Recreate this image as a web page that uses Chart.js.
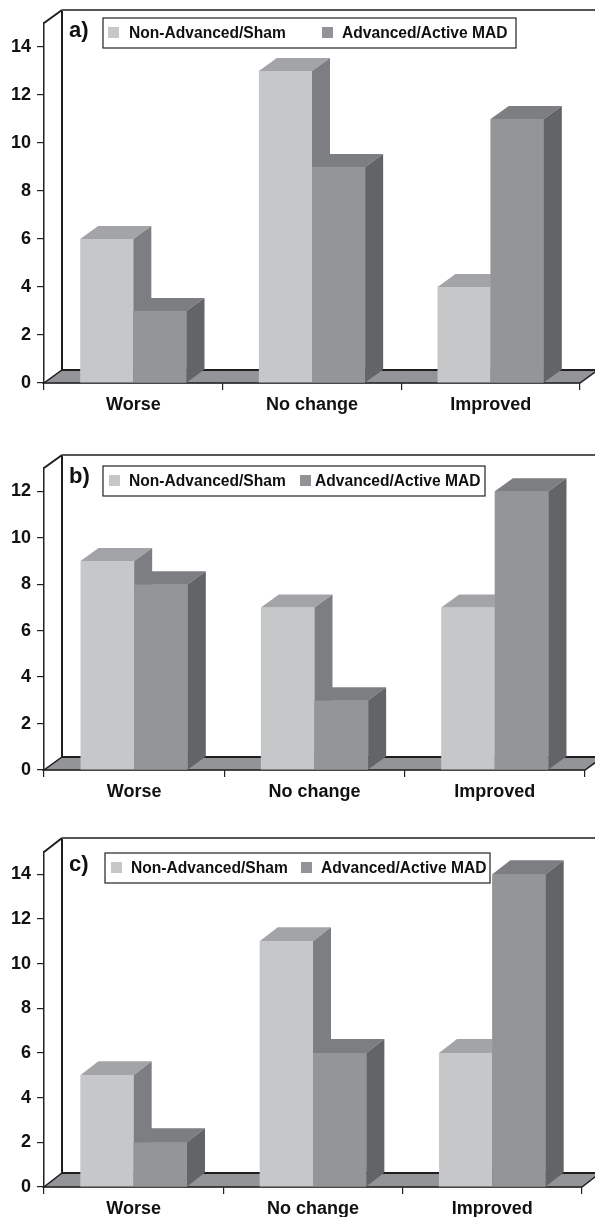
<!DOCTYPE html>
<html>
<head>
<meta charset="utf-8">
<script src="https://cdn.jsdelivr.net/npm/chart.js@4"></script>
<style>
  html, body { margin:0; padding:0; background:#fff; }
  body { width:595px; height:1217px; position:relative; overflow:hidden; }
  canvas { position:absolute; left:0; }
</style>
</head>
<body>
<canvas id="cA" width="595" height="415" style="top:0px"></canvas>
<canvas id="cB" width="595" height="400" style="top:415px"></canvas>
<canvas id="cC" width="595" height="402" style="top:815px"></canvas>
<script>
// ---- DATA ----
const categories = ['Worse', 'No change', 'Improved'];
const seriesNames = ['Non-Advanced/Sham', 'Advanced/Active MAD'];
const panelLabels = ['a)', 'b)', 'c)'];

const panelA_nonAdvanced = [6, 13, 4];
const panelA_advanced    = [3, 9, 11];
const panelB_nonAdvanced = [9, 7, 7];
const panelB_advanced    = [8, 3, 12];
const panelC_nonAdvanced = [5, 11, 6];
const panelC_advanced    = [2, 6, 14];

const yTicksA = [0, 2, 4, 6, 8, 10, 12, 14];
const yTicksB = [0, 2, 4, 6, 8, 10, 12];
const yTicksC = [0, 2, 4, 6, 8, 10, 12, 14];
const yMaxA = 15, yMaxB = 13, yMaxC = 15;

// ---- STYLE ----
const FONT = '"Liberation Sans", Arial, Helvetica, sans-serif';
const frontColors = ['#c6c7c9', '#949598'];
const topColors   = ['#a3a4a7', '#7d7e81'];
const sideColors  = ['#7d7e81', '#636466'];
const floorColor  = '#939497';
const legendSwatch = ['#c6c7c9', '#929396'];

const threeD = {
  id: 'threeD',
  beforeDatasetsDraw(chart, args, o) {
    const ctx = chart.ctx, ca = chart.chartArea;
    const dx = o.dx, dy = o.dy;
    ctx.save();
    ctx.beginPath();
    ctx.moveTo(ca.left, ca.bottom);
    ctx.lineTo(ca.right, ca.bottom);
    ctx.lineTo(ca.right + dx, ca.bottom - dy);
    ctx.lineTo(ca.left + dx, ca.bottom - dy);
    ctx.closePath();
    ctx.fillStyle = floorColor;
    ctx.fill();
    ctx.strokeStyle = '#1e1e1e';
    ctx.lineWidth = 1.5;
    ctx.stroke();
    ctx.beginPath();
    ctx.moveTo(ca.left + dx, ca.bottom - dy);
    ctx.lineTo(ca.right + dx, ca.bottom - dy);
    ctx.lineWidth = 2;
    ctx.stroke();
    ctx.beginPath();
    ctx.moveTo(ca.left + dx, ca.bottom - dy);
    ctx.lineTo(ca.left + dx, ca.top - dy);
    ctx.moveTo(ca.left, ca.top);
    ctx.lineTo(ca.left + dx, ca.top - dy);
    ctx.lineWidth = 2;
    ctx.strokeStyle = '#1e1e1e';
    ctx.stroke();
    ctx.beginPath();
    ctx.moveTo(ca.left + dx, ca.top - dy);
    ctx.lineTo(chart.width, ca.top - dy);
    ctx.strokeStyle = '#555';
    ctx.lineWidth = 2;
    ctx.stroke();
    ctx.restore();
  },
  afterDatasetsDraw(chart, args, o) {
    const ctx = chart.ctx;
    const dx = o.dx, dy = o.dy;
    const n = chart.data.labels.length;
    ctx.save();
    for (let i = 0; i < n; i++) {
      for (let d = 0; d < chart.data.datasets.length; d++) {
        const el = chart.getDatasetMeta(d).data[i];
        const p = el.getProps(['x', 'y', 'base', 'width'], true);
        const l = p.x - p.width / 2, r = p.x + p.width / 2;
        if (d > 0) el.draw(ctx);
        ctx.beginPath();
        ctx.moveTo(l, p.y);
        ctx.lineTo(r, p.y);
        ctx.lineTo(r + dx, p.y - dy);
        ctx.lineTo(l + dx, p.y - dy);
        ctx.closePath();
        ctx.fillStyle = topColors[d];
        ctx.fill();
        ctx.beginPath();
        ctx.moveTo(r, p.y);
        ctx.lineTo(r + dx, p.y - dy);
        ctx.lineTo(r + dx, p.base - dy);
        ctx.lineTo(r, p.base);
        ctx.closePath();
        ctx.fillStyle = sideColors[d];
        ctx.fill();
      }
    }
    ctx.restore();
  },
  afterDraw(chart, args, o) {
    const ctx = chart.ctx;
    ctx.save();
    ctx.fillStyle = '#111';
    ctx.font = 'bold 22px ' + FONT;
    ctx.textBaseline = 'middle';
    ctx.textAlign = 'left';
    ctx.fillText(o.label, o.labelX, o.labelY);
    const L = o.legend;
    ctx.fillStyle = '#fff';
    ctx.fillRect(L.x, L.y, L.w, L.h);
    ctx.strokeStyle = '#222';
    ctx.lineWidth = 1.2;
    ctx.strokeRect(L.x, L.y, L.w, L.h);
    ctx.font = 'bold 15.6px ' + FONT;
    ctx.textBaseline = 'middle';
    chart.data.datasets.forEach((ds, k) => {
      ctx.fillStyle = legendSwatch[k];
      ctx.fillRect(L.sw[k], L.y + L.h / 2 - 6, 11, 11);
      ctx.fillStyle = '#111';
      ctx.fillText(ds.label, L.tx[k], L.y + L.h / 2 + 0.5);
    });
    ctx.restore();
  }
};

function makePanel(id, nonAdv, adv, yTicks, yMax, cfg) {
  const canvas = document.getElementById(id);
  const H = canvas.height;
  new Chart(canvas, {
    type: 'bar',
    data: {
      labels: categories,
      datasets: [
        { label: seriesNames[0], data: nonAdv, backgroundColor: frontColors[0], borderWidth: 0,
          categoryPercentage: 0.595, barPercentage: 1.0 },
        { label: seriesNames[1], data: adv, backgroundColor: frontColors[1], borderWidth: 0,
          categoryPercentage: 0.595, barPercentage: 1.0 }
      ]
    },
    options: {
      responsive: false,
      animation: false,
      devicePixelRatio: 1,
      layout: { padding: { left: 0, right: 595 - cfg.right, top: cfg.top, bottom: 0 } },
      plugins: {
        legend: { display: false },
        tooltip: { enabled: false },
        threeD: cfg.three
      },
      scales: {
        x: {
          offset: true,
          grid: { offset: true, drawOnChartArea: false, drawTicks: true, tickLength: 7, color: '#222', lineWidth: 1.2 },
          border: { display: true, color: '#222', width: 1.2 },
          ticks: { color: '#111', font: { family: FONT, size: 18, weight: 'bold' }, padding: 4, maxRotation: 0 },
          afterFit(s) { s.height = H - cfg.bottom; }
        },
        y: {
          min: 0, max: yMax,
          grid: { drawOnChartArea: false, drawTicks: true, tickLength: 7, color: '#222', lineWidth: 1.2 },
          border: { display: true, color: '#222', width: 1.5 },
          ticks: { color: '#111', font: { family: FONT, size: 18, weight: 'bold' }, padding: 6 },
          afterBuildTicks(s) { s.ticks = yTicks.map(v => ({ value: v })); },
          afterFit(s) { s.width = 44; }
        }
      }
    },
    plugins: [threeD]
  });
}

makePanel('cA', panelA_nonAdvanced, panelA_advanced, yTicksA, yMaxA, {
  top: 23, bottom: 383, right: 580,
  three: { dx: 18, dy: 13, label: panelLabels[0], labelX: 69, labelY: 31,
    legend: { x: 103, y: 18, w: 413, h: 30, sw: [108, 322], tx: [129, 342] } }
});
makePanel('cB', panelB_nonAdvanced, panelB_advanced, yTicksB, yMaxB, {
  top: 53, bottom: 355, right: 585,
  three: { dx: 18, dy: 13, label: panelLabels[1], labelX: 69, labelY: 62,
    legend: { x: 103, y: 51, w: 382, h: 30, sw: [109, 300], tx: [129, 315] } }
});
makePanel('cC', panelC_nonAdvanced, panelC_advanced, yTicksC, yMaxC, {
  top: 37, bottom: 372, right: 582,
  three: { dx: 18, dy: 14, label: panelLabels[2], labelX: 69, labelY: 50,
    legend: { x: 105, y: 38, w: 385, h: 30, sw: [111, 301], tx: [131, 321] } }
});
</script>
</body>
</html>
